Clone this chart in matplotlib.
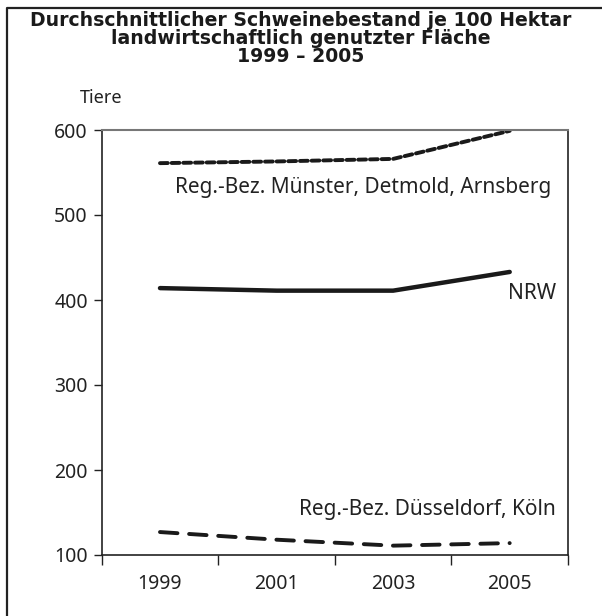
import matplotlib
matplotlib.use("Agg")
import matplotlib.pyplot as plt
from matplotlib.lines import Line2D

plt.rcParams['font.family'] = ['Noto Sans', 'DejaVu Sans']

years = ['1999', '2001', '2003', '2005']
muenster_detmold_arnsberg = [561, 563, 566, 599]
nrw = [414, 411, 411, 433]
duesseldorf_koeln = [127, 118, 111, 114]
y_ticks = [100, 200, 300, 400, 500, 600]

W, H = 602, 616
fig = plt.figure(figsize=(W / 100, H / 100), dpi=100)

# outer frame (only left and top edges visible)
fig.add_artist(Line2D([7 / W, 7 / W, 1.0], [0.0, 1 - 8 / H, 1 - 8 / H],
                      transform=fig.transFigure, color='#222222', lw=1.6))

title_lines = ['Durchschnittlicher Schweinebestand je 100 Hektar',
               'landwirtschaftlich genutzter Fläche',
               '1999 – 2005']
for line, ypx in zip(title_lines, [20, 38, 56]):
    fig.text(0.5, 1 - ypx / H, line, ha='center', va='center', fontsize=13.6,
             fontweight='bold', family=['DejaVu Sans'], color='#1a1a1a')
fig.text(80 / W, 1 - 98 / H, 'Tiere', ha='left', va='center', fontsize=13, color='#222222')

ax = fig.add_axes([101.7 / W, 1 - 555 / H, (568 - 101.7) / W, (555 - 130) / H])

x = [i + 0.5 for i in range(len(years))]
ax.plot(x, muenster_detmold_arnsberg, color='#1a1a1a', lw=2.8,
        linestyle=(0, (2.0, 1.0)), dash_capstyle='round', solid_joinstyle='round')
ax.plot(x, nrw, color='#1a1a1a', lw=3.2, solid_capstyle='round', solid_joinstyle='round')
ax.plot(x, duesseldorf_koeln, color='#1a1a1a', lw=2.8,
        linestyle=(0, (4.5, 3.0)), dash_capstyle='round')

ax.set_xlim(0, 4)
ax.set_ylim(100, 600)
ax.set_yticks(y_ticks)
ax.set_xticks(range(5))
ax.set_xticklabels([])
ax.set_xticks(x, minor=True)
ax.set_xticklabels(years, minor=True)
ax.tick_params(axis='x', which='major', direction='out', length=7, width=1, color='#222222')
ax.tick_params(axis='x', which='minor', length=0, pad=14, labelsize=14, labelcolor='#222222')
ax.tick_params(axis='y', direction='out', length=6, width=1, color='#222222',
               labelsize=14, labelcolor='#222222', pad=4)

for side in ['left', 'bottom', 'right']:
    ax.spines[side].set_color('#222222')
    ax.spines[side].set_linewidth(1.2)
ax.spines['top'].set_color('#777777')
ax.spines['top'].set_linewidth(1.5)

ax.text(3.86, 532, 'Reg.-Bez. Münster, Detmold, Arnsberg', ha='right', va='center',
        fontsize=15, color='#222222')
ax.text(3.9, 408, 'NRW', ha='right', va='center', fontsize=15, color='#222222')
ax.text(3.9, 154, 'Reg.-Bez. Düsseldorf, Köln', ha='right', va='center',
        fontsize=15, color='#222222')

fig.savefig('out.png', dpi=100)
